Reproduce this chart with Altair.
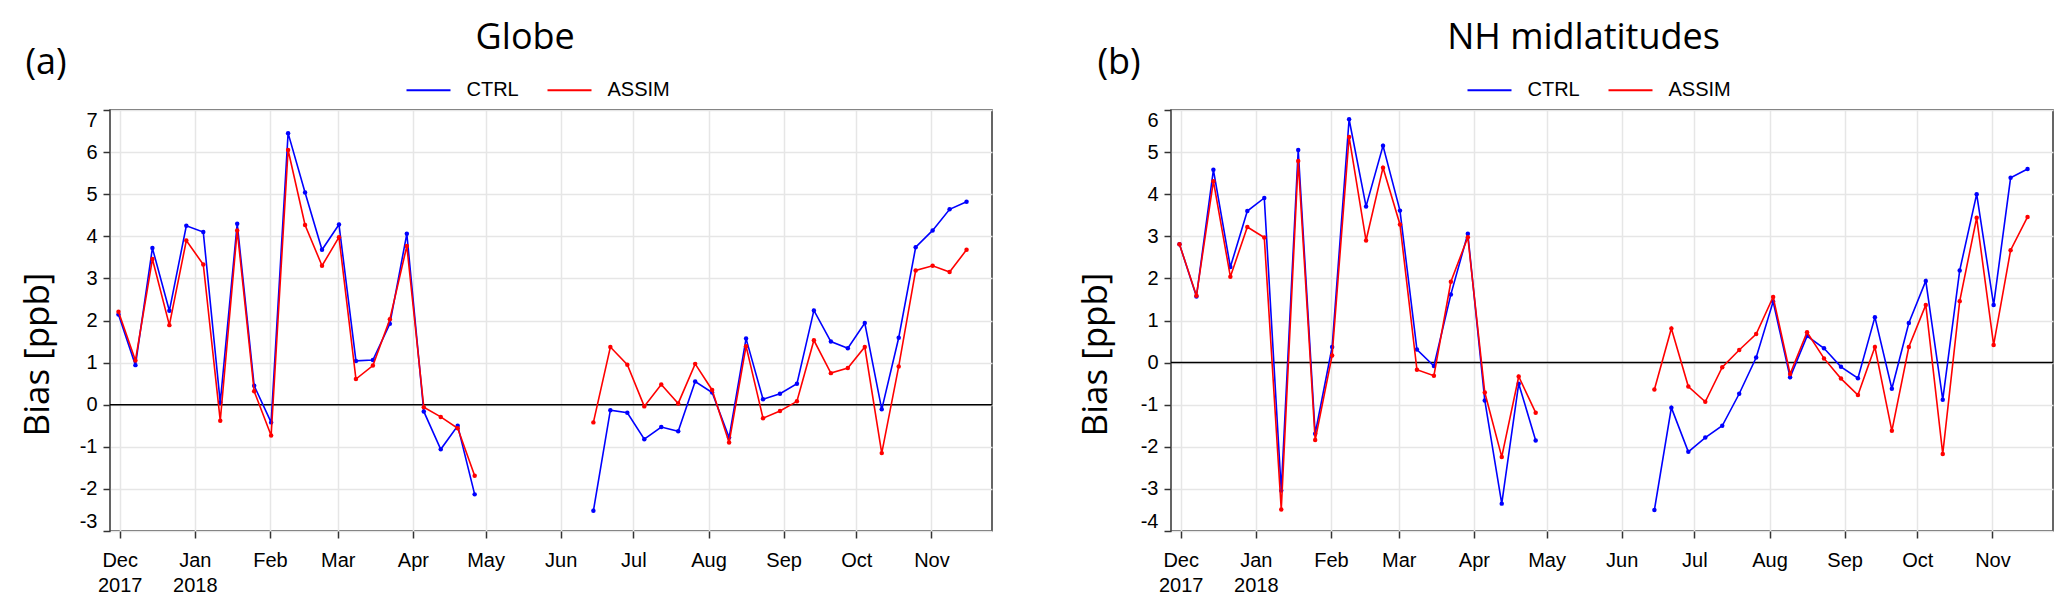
import altair as alt
import pandas as pd
from datetime import datetime, timedelta

# weekly dates, first week on 2017-11-30
start = datetime(2017, 11, 30, 12)
dates = [(start + timedelta(days=7 * i)).strftime("%Y-%m-%dT%H:%M:%S") for i in range(51)]
GAP = [None] * 6

ctrl_globe = [2.14, 0.94, 3.72, 2.23, 4.25, 4.10, 0.05, 4.30, 0.45, -0.42, 6.45, 5.04, 3.68, 4.28,
              1.04, 1.06, 1.92, 4.06, -0.16, -1.06, -0.50, -2.13] + GAP + \
             [-2.52, -0.13, -0.19, -0.82, -0.53, -0.63, 0.55, 0.29, -0.78, 1.57, 0.13, 0.26, 0.50,
              2.24, 1.50, 1.34, 1.94, -0.11, 1.59, 3.74, 4.14, 4.64, 4.82]
assim_globe = [2.21, 1.05, 3.46, 1.89, 3.90, 3.33, -0.38, 4.14, 0.32, -0.73, 6.05, 4.27, 3.30, 3.98,
               0.61, 0.93, 2.03, 3.77, -0.06, -0.29, -0.56, -1.69] + GAP + \
              [-0.42, 1.37, 0.95, -0.04, 0.48, 0.03, 0.97, 0.35, -0.90, 1.39, -0.32, -0.15, 0.08,
               1.53, 0.75, 0.87, 1.37, -1.15, 0.91, 3.19, 3.30, 3.15, 3.68]
ctrl_nh = [2.81, 1.57, 4.58, 2.27, 3.60, 3.91, -3.04, 5.05, -1.69, 0.37, 5.78, 3.71, 5.15, 3.61,
           0.31, -0.08, 1.62, 3.06, -0.90, -3.35, -0.50, -1.85] + GAP + \
          [-3.50, -1.07, -2.12, -1.78, -1.50, -0.74, 0.12, 1.45, -0.35, 0.63, 0.34, -0.10, -0.37,
           1.08, -0.62, 0.94, 1.94, -0.88, 2.19, 4.00, 1.37, 4.39, 4.60]
assim_nh = [2.81, 1.59, 4.31, 2.04, 3.22, 2.97, -3.49, 4.79, -1.84, 0.17, 5.36, 2.90, 4.63, 3.28,
            -0.17, -0.31, 1.92, 2.98, -0.71, -2.24, -0.33, -1.19] + GAP + \
           [-0.64, 0.81, -0.57, -0.93, -0.11, 0.30, 0.68, 1.56, -0.27, 0.72, 0.10, -0.38, -0.77,
            0.37, -1.62, 0.37, 1.37, -2.17, 1.46, 3.44, 0.42, 2.67, 3.46]

series_names = ["CTRL", "ASSIM"]
series_colors = ["#0000ff", "#ff0000"]
month_ticks = [alt.DateTime(year=2017, month=12, date=1)] + \
              [alt.DateTime(year=2018, month=m, date=1) for m in range(1, 12)]

LABEL_FONT = "Liberation Sans"
TITLE_FONT = "Open Sans"
W, H = 882, 421


def frame(values, name):
    rows = []
    for i, v in enumerate(values):
        if v is None:
            continue
        rows.append({"date": dates[i], "value": v, "series": name, "seg": 1 if i < 22 else 2})
    return pd.DataFrame(rows)


def panel(ctrl, assim, ymin, ymax, title, title_x, tag, tag_x, ytitle_x):
    x = alt.X("date:T",
              scale=alt.Scale(domain=[alt.DateTime(year=2017, month=11, date=27),
                                      alt.DateTime(year=2018, month=11, date=26)]),
              axis=alt.Axis(values=month_ticks, title=None,
                            labelExpr="month(datum.value) == 11 || month(datum.value) == 0 ? "
                                      "[timeFormat(datum.value, '%b'), timeFormat(datum.value, '%Y')] : "
                                      "timeFormat(datum.value, '%b')"))
    y = alt.Y("value:Q", scale=alt.Scale(domain=[ymin, ymax], nice=False, zero=False),
              axis=alt.Axis(values=list(range(ymin, ymax + 1)), title="Bias [ppb]",
                            labelExpr="datum.value + ''", labelOverlap=False, labelFlush=True,
                            titleX=ytitle_x, titleY=244, titleAngle=270,
                            titleBaseline="bottom", titleAlign="center"))
    color = alt.Color("series:N",
                      scale=alt.Scale(domain=series_names, range=series_colors),
                      legend=alt.Legend(title=None, orient="none", direction="horizontal",
                                        legendX=295.5, legendY=-42.7,
                                        symbolType="stroke", symbolSize=1936,
                                        symbolStrokeWidth=2, labelOffset=15,
                                        columnPadding=24, labelFont=LABEL_FONT,
                                        labelFontSize=20, labelColor="black"))
    layers = []
    # invisible spacer that fixes the panel's outer bounds
    layers.append(alt.Chart(pd.DataFrame({"s": [0]})).mark_rule(color="white", strokeWidth=1).encode(
        x=alt.value(-100), x2=alt.value(0), y=alt.value(-100)))
    layers.append(alt.Chart(pd.DataFrame({"z": [0]})).mark_rule(color="black", strokeWidth=1.5).encode(
        y=alt.datum(0)))
    for vals, name, col in [(ctrl, "CTRL", series_colors[0]), (assim, "ASSIM", series_colors[1])]:
        df = frame(vals, name)
        line = alt.Chart(df).mark_line(strokeWidth=1.6).encode(
            x=x, y=y, color=color, detail="seg:N")
        pts = alt.Chart(df).mark_circle(size=20, opacity=1, color=col).encode(x=x, y=y)
        layers += [line, pts]
    layers.append(alt.Chart(pd.DataFrame({"t": [tag]})).mark_text(
        font=TITLE_FONT, fontSize=36, align="center", baseline="middle", color="black").encode(
        text="t:N", x=alt.value(tag_x), y=alt.value(-47)))
    layers.append(alt.Chart(pd.DataFrame({"t": [title]})).mark_text(
        font=TITLE_FONT, fontSize=36, align="center", baseline="alphabetic", color="black").encode(
        text="t:N", x=alt.value(title_x), y=alt.value(-60.7)))
    return alt.layer(*layers).properties(width=W, height=H)


pa = panel(ctrl_globe, assim_globe, -3, 7, "Globe", 415.2, "(a)", -64, -55)
pb = panel(ctrl_nh, assim_nh, -4, 6, "NH midlatitudes", 412.5, "(b)", -52, -58)

chart = alt.hconcat(pa, pb, spacing=75).resolve_scale(
    color="independent", x="independent", y="independent").properties(
    padding={"left": 0, "top": 0, "right": 0, "bottom": 0}
).configure_view(stroke="#333333", strokeWidth=1.5).configure_axis(
    grid=True, gridColor="#e6e6e6", gridWidth=1.5, domain=False,
    tickColor="#333333", tickSize=7, tickWidth=1.5,
    labelFont=LABEL_FONT, labelFontSize=20, labelColor="black",
    titleFont=TITLE_FONT, titleFontSize=35, titleFontWeight="normal", titleColor="black"
).configure_axisX(labelPadding=12, labelLineHeight=25
).configure_axisY(labelPadding=6)

chart.save("out.html", embed_options={"renderer": "svg", "actions": False})
